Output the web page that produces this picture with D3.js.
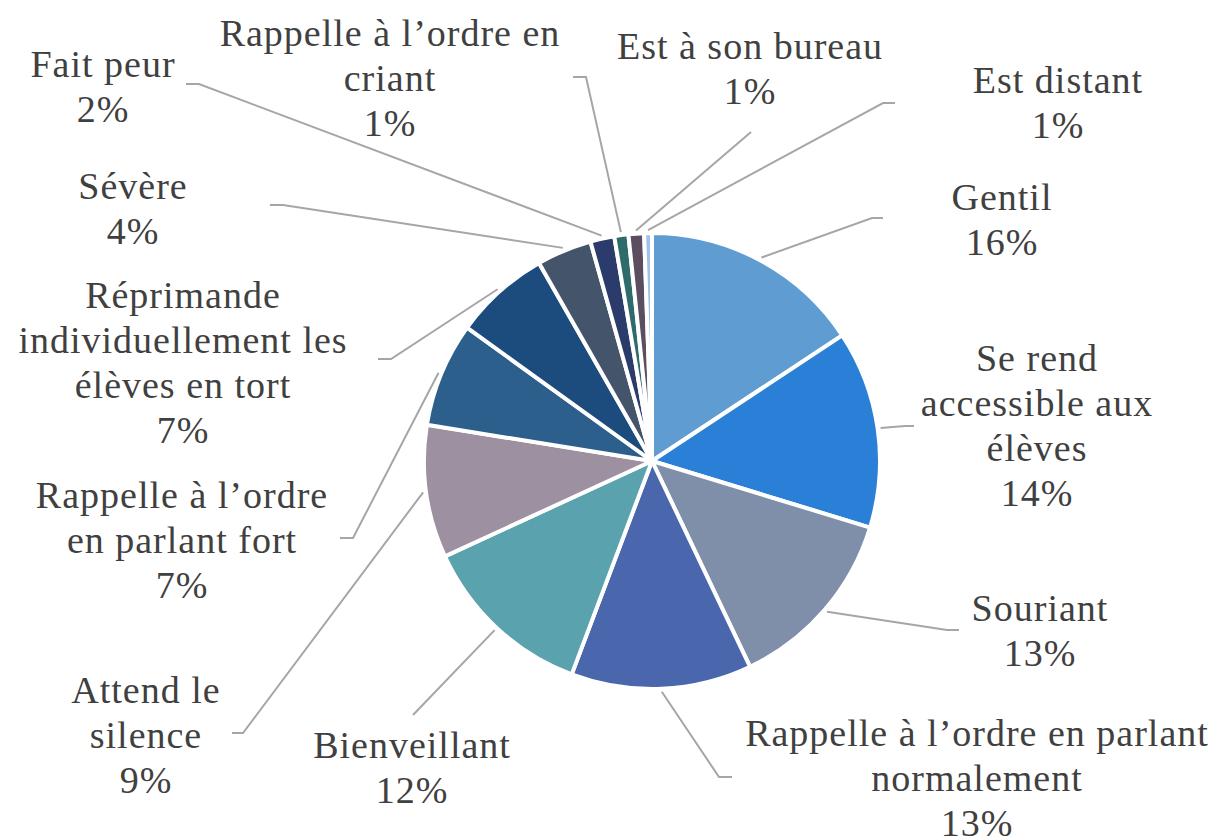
<!DOCTYPE html>
<html>
<head>
<meta charset="utf-8">
<script src="https://cdn.jsdelivr.net/npm/d3@7"></script>
<style>
  html, body { margin: 0; padding: 0; background: #fff; }
  svg { display: block; }
</style>
</head>
<body>
<svg id="chart"></svg>
<script>
let width = 1217
let height = 836

// data, clockwise from 12 o'clock
let categories = [
	'Gentil', 'Se rend accessible aux élèves', 'Souriant',
	'Rappelle à l’ordre en parlant normalement', 'Bienveillant',
	'Attend le silence', 'Rappelle à l’ordre en parlant fort',
	'Réprimande individuellement les élèves en tort', 'Sévère', 'Fait peur',
	'Rappelle à l’ordre en criant', 'Est à son bureau', 'Est distant'
]
let values = [15.7, 14.0, 13.2, 12.8, 12.4, 9.4, 7.4, 6.8, 3.9, 1.7, 1.0, 1.1, 0.55]
let colors = [
	'#5f9cd2', '#2a7fd6', '#7f8fa9', '#4a66ac', '#5aa2ae', '#9d90a0',
	'#2c5f8c', '#1c4b7d', '#44546a', '#2a3b6c', '#2e6b6b', '#5a4e60', '#9dc3e6'
]

// how each label is broken over lines
let labelLines = [
	['Gentil'],
	['Se rend', 'accessible aux', 'élèves'],
	['Souriant'],
	['Rappelle à l’ordre en parlant', 'normalement'],
	['Bienveillant'],
	['Attend le', 'silence'],
	['Rappelle à l’ordre', 'en parlant fort'],
	['Réprimande', 'individuellement les', 'élèves en tort'],
	['Sévère'],
	['Fait peur'],
	['Rappelle à l’ordre en', 'criant'],
	['Est à son bureau'],
	['Est distant']
]

// label layout (centre x, first line y) and leader line points on the label side
let labelPos = [
	[1002, 197], [1037, 358], [1040, 608], [977, 733], [412, 745],
	[146, 690], [182, 495], [183, 295], [133, 186], [103, 64],
	[390, 33], [750, 46], [1058, 80]
]
let leaderPts = [
	[[883, 218], [872, 218]],
	[[914, 426], [905, 426]],
	[[959, 630], [947, 630]],
	[[732, 777], [719, 777]],
	[[413, 715]],
	[[232, 733], [243, 733]],
	[[340, 538], [353, 538]],
	[[378, 359], [391, 359]],
	[[270, 205], [283, 205]],
	[[186, 84], [199, 84]],
	[[573, 77], [586, 77]],
	[[751, 132]],
	[[895, 103], [883, 103]]
]

let cx = 652, cy = 461, r = 228
let lineH = 45

let data = categories.map((c, i) => ({ name: c, value: values[i], i: i }))
let total = d3.sum(values)
let pct = d3.format('.0%')

let svg = d3.select('#chart')
	.attr('width', width)
	.attr('height', height)

let pie = d3.pie().sort(null).value(d => d.value)
let arcs = pie(data)
let arc = d3.arc().innerRadius(0).outerRadius(r)

let g = svg.append('g').attr('transform', `translate(${cx},${cy})`)

g.selectAll('path')
	.data(arcs)
	.join('path')
	.attr('d', arc)
	.attr('fill', d => colors[d.data.i])
	.attr('stroke', '#fff')
	.attr('stroke-width', 4)
	.attr('stroke-linejoin', 'round')

// leader lines
let line = d3.line()
svg.append('g')
	.selectAll('path')
	.data(arcs)
	.join('path')
	.attr('fill', 'none')
	.attr('stroke', '#a6a6a6')
	.attr('stroke-width', 2)
	.attr('d', d => {
		let a = (d.startAngle + d.endAngle) / 2
		let end = [cx + (r + 3) * Math.sin(a), cy - (r + 3) * Math.cos(a)]
		return line(leaderPts[d.data.i].concat([end]))
	})

// labels
let labels = svg.append('g')
	.style('font-family', '"Liberation Serif", "Times New Roman", serif')
	.style('font-size', '38px')
	.style('letter-spacing', '1px')
	.attr('fill', '#404040')
	.attr('text-anchor', 'middle')

labels.selectAll('text')
	.data(arcs)
	.join('text')
	.attr('x', d => labelPos[d.data.i][0])
	.attr('y', d => labelPos[d.data.i][1])
	.each(function (d) {
		let rows = labelLines[d.data.i].concat([pct(Math.round(d.data.value / total * 100) / 100)])
		let pos = labelPos[d.data.i]
		d3.select(this).selectAll('tspan')
			.data(rows)
			.join('tspan')
			.attr('x', pos[0])
			.attr('y', (t, k) => pos[1] + k * lineH)
			.attr('dy', '0.35em')
			.text(t => t)
	})
</script>
</body>
</html>
